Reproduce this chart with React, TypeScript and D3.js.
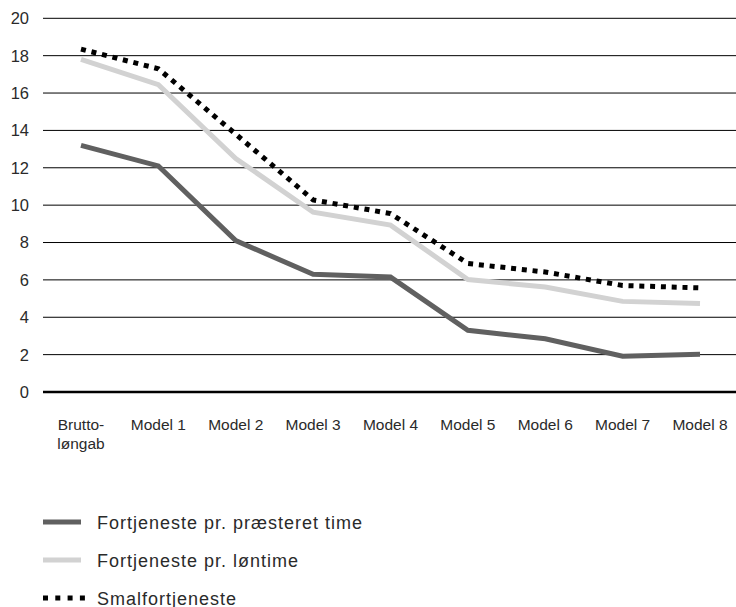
import React from "react";
import * as d3 from "d3";

const categories = ["Brutto-\nløngab", "Model 1", "Model 2", "Model 3", "Model 4", "Model 5", "Model 6", "Model 7", "Model 8"];
const praesteret = [13.2, 12.1, 8.1, 6.3, 6.15, 3.3, 2.85, 1.92, 2.02];
const loentime = [17.8, 16.45, 12.5, 9.62, 8.93, 6.02, 5.62, 4.85, 4.73];
const smalfortjeneste = [18.35, 17.3, 13.8, 10.28, 9.55, 6.88, 6.42, 5.7, 5.57];
const yTicks = [0, 2, 4, 6, 8, 10, 12, 14, 16, 18, 20];

const seriesNames = ["Fortjeneste pr. præsteret time", "Fortjeneste pr. løntime", "Smalfortjeneste"];

const W = 736;
const H = 607;
const FONT = "'Liberation Sans', Arial, Helvetica, sans-serif";

export default function App() {
  const x = d3.scalePoint<string>().domain(categories).range([42.3, 738.7]).padding(0.5);
  const y = d3.scaleLinear().domain([0, 20]).range([392, 18.3]);

  const line = d3
    .line<number>()
    .x((_, i) => x(categories[i]) as number)
    .y((d) => y(d));

  const series = [
    { name: seriesNames[0], values: praesteret, color: "#606060", dash: undefined as string | undefined, legendDash: undefined as string | undefined },
    { name: seriesNames[1], values: loentime, color: "#d2d2d2", dash: undefined, legendDash: undefined },
    { name: seriesNames[2], values: smalfortjeneste, color: "#000000", dash: "5,5.8", legendDash: "5,7.3" },
  ];

  return (
    <>
      <style>{"body{margin:0}"}</style>
      <svg width={W} height={H} style={{ display: "block", fontFamily: FONT }}>
        {yTicks.map((t) => (
          <g key={t}>
            <line
              x1={43}
              x2={W}
              y1={y(t)}
              y2={y(t)}
              stroke="#000"
              strokeWidth={t === 0 ? 2.6 : 1}
            />
            <text x={29} y={y(t)} dy="0.36em" textAnchor="end" fontSize={16.5} fill="#2a2a2a">
              {t}
            </text>
          </g>
        ))}
        {categories.map((c) => (
          <text key={c} x={x(c)} y={430} textAnchor="middle" fontSize={15.5} fill="#2a2a2a">
            {c.split("\n").map((part, i) => (
              <tspan key={i} x={x(c)} dy={i === 0 ? 0 : 18.5}>
                {part}
              </tspan>
            ))}
          </text>
        ))}
        {series.map((s) => (
          <path
            key={s.name}
            d={line(s.values) || ""}
            fill="none"
            stroke={s.color}
            strokeWidth={5}
            strokeDasharray={s.dash}
            strokeLinejoin="miter"
          />
        ))}
        {series.map((s, i) => {
          const cy = 522 + i * 38;
          return (
            <g key={s.name}>
              <line
                x1={43}
                x2={s.legendDash ? 85 : 81}
                y1={cy}
                y2={cy}
                stroke={s.color}
                strokeWidth={5}
                strokeDasharray={s.legendDash}
              />
              <text x={97} y={cy + 6.5} fontSize={18} letterSpacing={1} fill="#2a2a2a">
                {s.name}
              </text>
            </g>
          );
        })}
      </svg>
    </>
  );
}
